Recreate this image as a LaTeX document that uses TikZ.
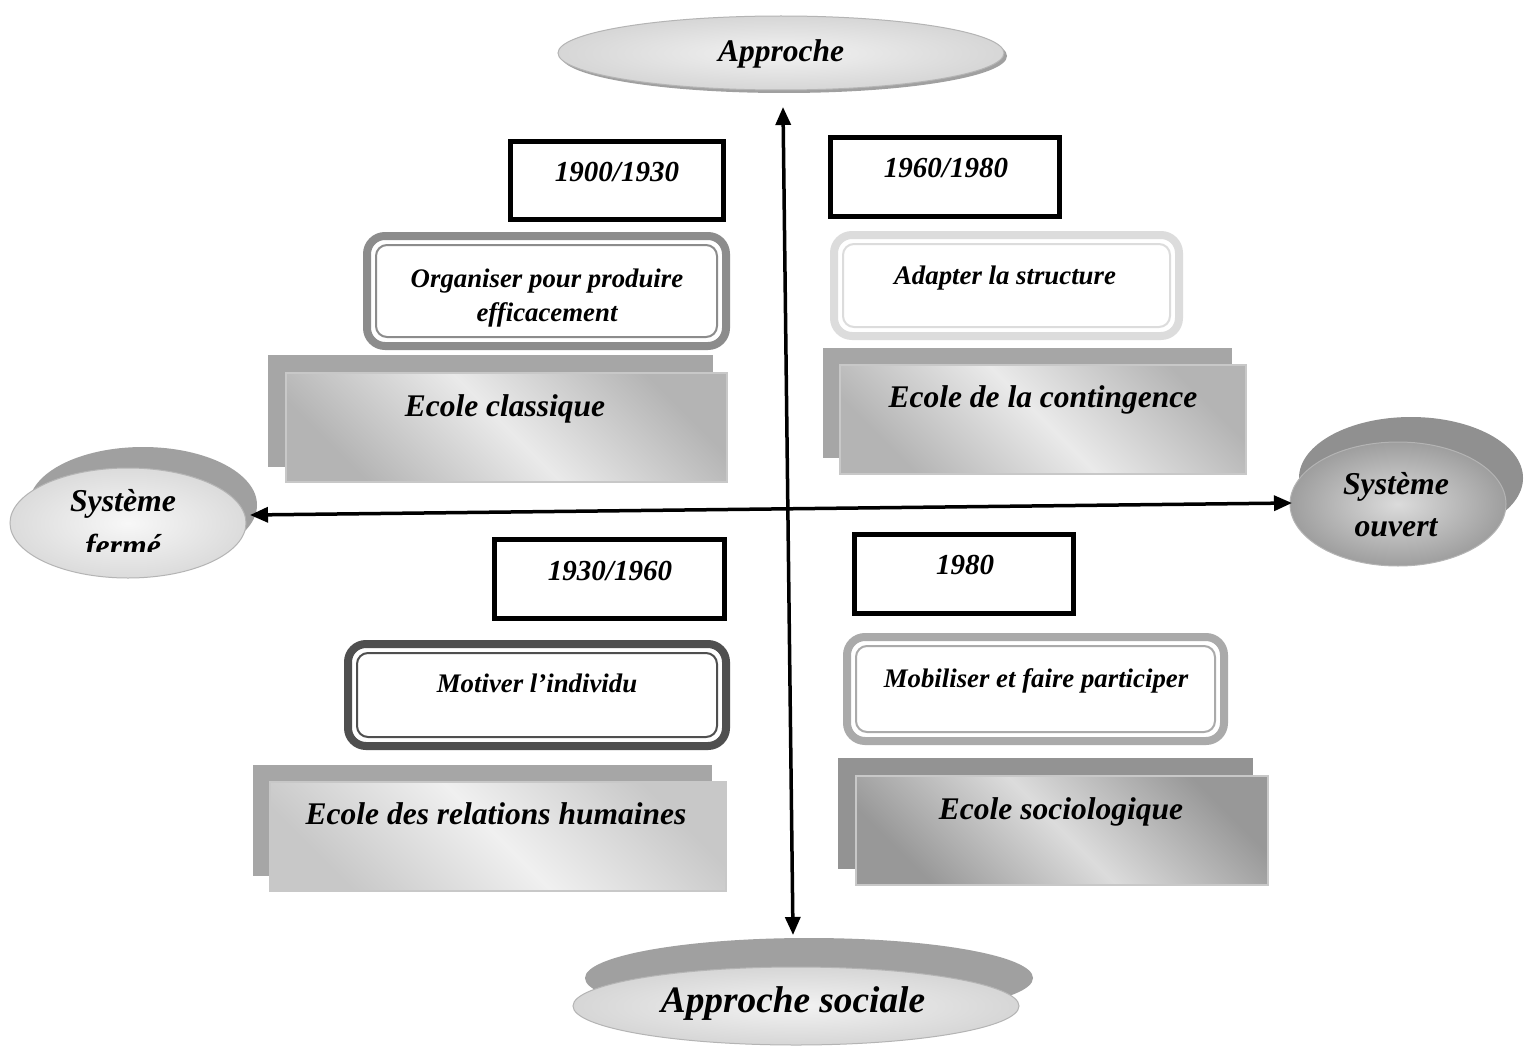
\documentclass[tikz,border=0pt]{standalone}
\usepackage{fontspec}
\setmainfont{Liberation Serif}
\usetikzlibrary{shapes.geometric,arrows.meta,calc}
\definecolor{ringA}{HTML}{8C8C8C}
\definecolor{ringB}{HTML}{DCDCDC}
\definecolor{ringC}{HTML}{4F4F4F}
\definecolor{ringD}{HTML}{AAAAAA}
\definecolor{backA}{HTML}{A6A6A6}
\definecolor{backB}{HTML}{939393}
\definecolor{frontDark}{HTML}{B4B4B4}
\definecolor{frontLight}{HTML}{EAEAEA}
\definecolor{frontDarkC}{HTML}{C8C8C8}
\definecolor{frontLightC}{HTML}{F0F0F0}
\definecolor{frontDarkB}{HTML}{989898}
\definecolor{frontLightB}{HTML}{DCDCDC}
\definecolor{frontEdge}{HTML}{C8C8C8}
\definecolor{shadowGray}{HTML}{A0A0A0}
\definecolor{ellEdge}{HTML}{B4B4B4}
\begin{document}
\begin{tikzpicture}[x=1pt,y=-1pt,
  every node/.style={inner sep=0pt,outer sep=0pt},
  lbl/.style={font=\bfseries\itshape\fontsize{#1}{#1}\selectfont,anchor=base,inner sep=0pt},
  yearbox/.style={draw=black,line width=5pt,fill=white},
  ringbox/.style={draw=#1,line width=8pt,rounded corners=18pt,fill=white},
  innerring/.style={draw=#1,line width=2pt,rounded corners=11pt},
  backbox/.style={fill=#1},
  frontbox/.style 2 args={draw=frontEdge,line width=2pt,left color=#1,right color=#1,middle color=#2,shading angle=135},
  ellshadow/.style={ellipse,fill=#1},
  ellmain/.style 2 args={ellipse,draw=ellEdge,line width=1pt,inner color=#1,outer color=#2},
  arrowline/.style={line width=3.5pt,{Triangle[length=18pt,width=15pt]}-{Triangle[length=18pt,width=15pt]}}
]
\useasboundingbox (0,0) rectangle (1531,1046);
\fill[white] (0,0) rectangle (1531,1046);

% ---------- ellipses ----------
\node[ellshadow=shadowGray,minimum width=446pt,minimum height=74pt] (topS) at (784,56) {};
\node[ellmain={white!95!black}{white!84!black},minimum width=446pt,minimum height=74pt] (topE) at (781,53) {};
\node[lbl=31.5] (topT) at (781,62) {Approche};

\node[ellshadow=shadowGray,minimum width=448pt,minimum height=80pt] (botS) at (809,978) {};
\node[ellmain={white!95!black}{white!84!black},minimum width=446pt,minimum height=78pt] (botE) at (796,1006) {};
\node[lbl=37.3] (botT) at (793,1012) {Approche sociale};

\node[ellshadow=shadowGray,minimum width=228pt,minimum height=116pt] (leftS) at (143,505) {};
\node[ellmain={white!97!black}{white!86!black},minimum width=236pt,minimum height=110pt] (leftE) at (128,523) {};
\node[lbl=31.8] (leftT1) at (123,511) {Système};
\begin{scope}
\clip (0,400) rectangle (300,551);
\node[lbl=31.8] (leftT2) at (123,556) {fermé};
\end{scope}

\node[ellshadow=shadowGray!90!black,minimum width=224pt,minimum height=122pt] (rightS) at (1411,478) {};
\node[ellmain={white!86!black}{white!62!black},minimum width=216pt,minimum height=124pt] (rightE) at (1398,504) {};
\node[lbl=31.8] (rightT1) at (1396,494) {Système};
\node[lbl=31.8] (rightT2) at (1396,536) {ouvert};

% ---------- arrows ----------
\coordinate (vTop) at (783,107);
\coordinate (vBot) at (793,935);
\coordinate (hLeft) at (250,515);
\coordinate (hRight) at (1292,503);
\draw[arrowline] (vTop) -- (vBot);
\draw[arrowline] (hLeft) -- (hRight);

% ---------- year boxes ----------
\node[yearbox,minimum width=213pt,minimum height=78pt] (y1) at (617,180.5) {};
\node[lbl=29] (y1T) at (617,182) {1900/1930};
\node[yearbox,minimum width=229pt,minimum height=79pt] (y2) at (945,177) {};
\node[lbl=29] (y2T) at (946,177) {1960/1980};
\node[yearbox,minimum width=230pt,minimum height=79pt] (y3) at (609.5,579) {};
\node[lbl=29] (y3T) at (610,580) {1930/1960};
\node[yearbox,minimum width=219pt,minimum height=79pt] (y4) at (964,574) {};
\node[lbl=29] (y4T) at (965,574) {1980};

% ---------- ring boxes ----------
\node[ringbox=ringA,minimum width=359pt,minimum height=110pt] (r1) at (546.5,291) {};
\draw[innerring=ringA] ($(r1.north west)+(9,9)$) rectangle ($(r1.south east)+(-9,-9)$);
\node[lbl=26.8] (r1T1) at (547,287) {Organiser pour produire};
\node[lbl=26.8] (r1T2) at (547,321) {efficacement};

\node[ringbox=ringB,minimum width=345pt,minimum height=101pt] (r2) at (1006.5,285.5) {};
\draw[innerring=ringB] ($(r2.north west)+(9,9)$) rectangle ($(r2.south east)+(-9,-9)$);
\node[lbl=26.8] (r2T) at (1005,284) {Adapter la structure};

\node[ringbox=ringC,minimum width=378pt,minimum height=102pt] (r3) at (537,695) {};
\draw[innerring=ringC] ($(r3.north west)+(9,9)$) rectangle ($(r3.south east)+(-9,-9)$);
\node[lbl=26.8] (r3T) at (537,692) {Motiver l’individu};

\node[ringbox=ringD,minimum width=377pt,minimum height=104pt] (r4) at (1035.5,689) {};
\draw[innerring=ringD] ($(r4.north west)+(9,9)$) rectangle ($(r4.south east)+(-9,-9)$);
\node[lbl=26.8] (r4T) at (1036,687) {Mobiliser et faire participer};

% ---------- school boxes ----------
\node[backbox=backA,minimum width=445pt,minimum height=112pt] (s1B) at (490.5,411) {};
\node[frontbox={frontDark}{frontLight},minimum width=441pt,minimum height=109pt] (s1F) at (506.5,427.5) {};
\node[lbl=31.5] (s1T) at (505,416) {Ecole classique};

\node[backbox=backA,minimum width=409pt,minimum height=110pt] (s2B) at (1027.5,403) {};
\node[frontbox={frontDark}{frontLight},minimum width=406pt,minimum height=109pt] (s2F) at (1043,419.5) {};
\node[lbl=31.5] (s2T) at (1043,407) {Ecole de la contingence};

\node[backbox=backA,minimum width=459pt,minimum height=111pt] (s3B) at (482.5,820.5) {};
\node[frontbox={frontDarkC}{frontLightC},minimum width=456pt,minimum height=109pt] (s3F) at (498,836.5) {};
\node[lbl=31.5] (s3T) at (496,824) {Ecole des relations humaines};

\node[backbox=backB,minimum width=415pt,minimum height=111pt] (s4B) at (1045.5,813.5) {};
\node[frontbox={frontDarkB}{frontLightB},minimum width=412pt,minimum height=109pt] (s4F) at (1062,830.5) {};
\node[lbl=31.5] (s4T) at (1061,819) {Ecole sociologique};
\end{tikzpicture}
\end{document}
